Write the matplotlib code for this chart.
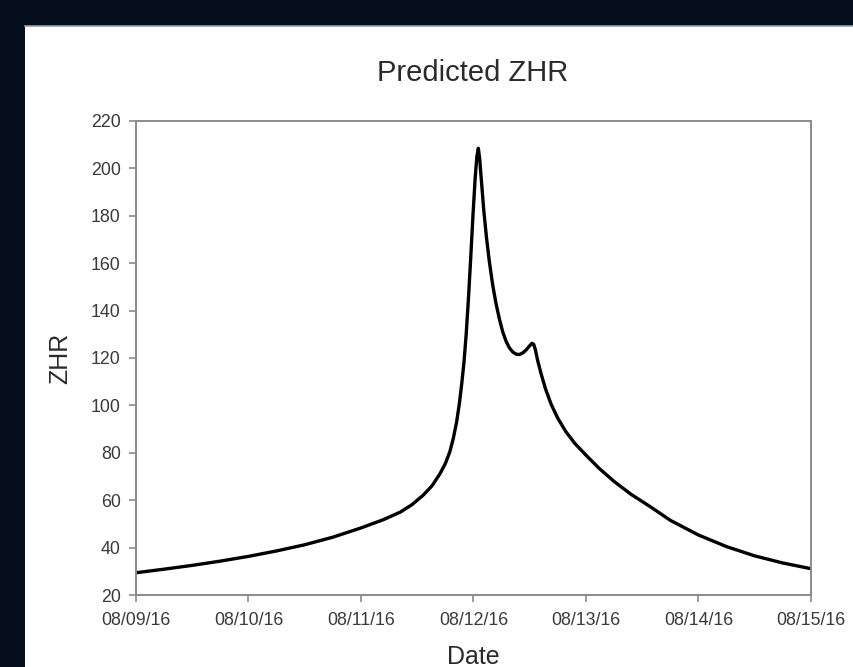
import matplotlib
matplotlib.use("Agg")
import matplotlib.pyplot as plt
import matplotlib.dates as mdates
from matplotlib.patches import Rectangle
import pandas as pd

# days after 08/09/16 00:00
day_offsets = [
    0.00, 0.25, 0.50, 0.75, 1.00, 1.25, 1.50, 1.75, 2.00, 2.20,
    2.35, 2.45, 2.55, 2.63, 2.70, 2.75, 2.79, 2.82, 2.85, 2.875,
    2.895, 2.915, 2.935, 2.955, 2.975, 2.995, 3.015, 3.03, 3.043, 3.055,
    3.07, 3.09, 3.115, 3.14, 3.17, 3.20, 3.23, 3.26, 3.29, 3.32,
    3.35, 3.38, 3.41, 3.44, 3.47, 3.50, 3.52, 3.535, 3.55, 3.57,
    3.60, 3.64, 3.69, 3.75, 3.82, 3.90, 4.00, 4.12, 4.25, 4.40,
    4.57, 4.75, 5.00, 5.25, 5.50, 5.75, 6.00,
]
zhr = [
    29.4, 30.9, 32.5, 34.3, 36.3, 38.6, 41.2, 44.4, 48.3, 51.8,
    55.0, 58.0, 62.0, 66.0, 71.0, 75.5, 80.5, 86.0, 93.0, 101.0,
    109.0, 118.0, 130.0, 145.0, 162.0, 180.0, 196.0, 205.0, 208.5, 204.0,
    195.0, 183.0, 171.0, 161.0, 151.0, 143.0, 136.5, 131.0, 127.0, 124.2,
    122.5, 121.6, 121.5, 122.2, 123.5, 125.2, 126.2, 125.8, 123.5, 119.0,
    113.5, 107.0, 100.5, 94.5, 89.0, 84.0, 79.0, 73.3, 67.9, 62.5,
    57.3, 51.5, 45.3, 40.4, 36.5, 33.5, 31.1,
]
y_ticks = list(range(20, 221, 20))

start = pd.Timestamp("2016-08-09")
dates = start + pd.to_timedelta(day_offsets, unit="D")
x_ticks = pd.date_range("2016-08-09", "2016-08-15", freq="D")

plt.rcParams["font.family"] = ["Liberation Sans", "DejaVu Sans"]

W, H = 854, 667
fig = plt.figure(figsize=(W / 100, H / 100), dpi=100, facecolor="#040e1b")

# white card behind the chart
fig.patches.append(Rectangle((25 / W, 0), 1, 1 - 26 / H, transform=fig.transFigure,
                             facecolor="white", edgecolor="none", zorder=-10))
fig.add_artist(plt.Line2D([25 / W, 1], [1 - 26 / H, 1 - 26 / H], transform=fig.transFigure,
                          color="#9a9ea4", linewidth=1.2, zorder=-9))

ax = fig.add_axes([136 / W, 1 - 595 / H, 675 / W, 474 / H])
ax.plot(dates, zhr, color="black", linewidth=2.4, solid_joinstyle="round")

ax.set_xlim(x_ticks[0], x_ticks[-1])
ax.set_ylim(20, 220)
ax.set_xticks(x_ticks)
ax.set_yticks(y_ticks)
ax.xaxis.set_major_formatter(mdates.DateFormatter("%m/%d/%y"))

for side in ["left", "bottom", "top", "right"]:
    ax.spines[side].set_color("#8a8a8a")
    ax.spines[side].set_linewidth(1.4)
ax.tick_params(direction="out", length=5, width=1.2, color="#8a8a8a",
               labelcolor="#3a3a3a", labelsize=12.8)
ax.tick_params(axis="x", pad=7)
ax.tick_params(axis="y", pad=6)

ax.set_xlabel("Date", fontsize=18, color="#2a2a2a")
ax.xaxis.set_label_coords(0.5, -0.105)
ax.set_ylabel("ZHR", fontsize=18, color="#2a2a2a")
ax.yaxis.set_label_coords(-0.095, 0.5)

fig.text(473 / W, 1 - 73 / H, "Predicted ZHR", ha="center", va="center",
         fontsize=21, color="#2a2a2a")

plt.savefig("out.png", dpi=100, facecolor=fig.get_facecolor())
plt.close(fig)
